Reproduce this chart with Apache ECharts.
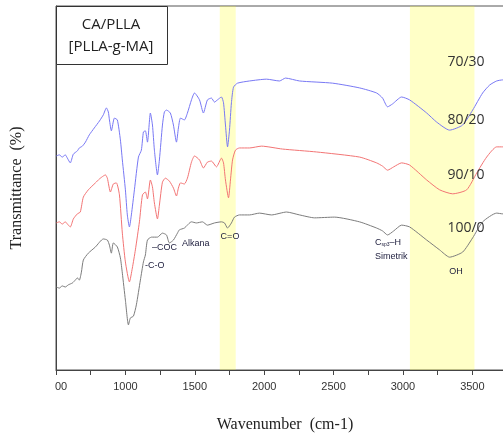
<!DOCTYPE html>
<html>
<head>
<meta charset="utf-8">
<script src="https://cdn.jsdelivr.net/npm/echarts@6/dist/echarts.min.js"></script>
<style>
  html, body { margin: 0; padding: 0; background: #fff; }
  #chart { width: 503px; height: 433px; }
</style>
</head>
<body>
<div id="chart"></div>
<script>
// FTIR spectra, [wavenumber, transmittance]
var s7030 = [[502,58.8],[524,59.1],[545,58.5],[567,59.1],[582,58.2],[603,56.9],[625,59.3],[654,60.2],[668,61.0],[690,61.5],[712,62.6],[740,64.6],[776,66.5],[813,68.4],[841,70.1],[863,72.0],[877,70.9],[885,68.7],[899,65.7],[921,69.2],[942,68.7],[964,63.2],[978,57.7],[1000,49.5],[1014,42.6],[1029,39.3],[1043,42.6],[1065,49.5],[1094,58.5],[1115,60.4],[1130,65.4],[1144,65.7],[1159,62.6],[1180,70.6],[1195,67.3],[1209,60.4],[1231,53.6],[1245,57.7],[1267,67.3],[1281,70.9],[1296,71.4],[1324,70.6],[1346,67.3],[1368,62.6],[1382,66.5],[1397,69.2],[1425,68.7],[1447,70.6],[1476,74.2],[1498,76.1],[1534,74.2],[1562,70.6],[1591,74.2],[1620,74.7],[1642,73.6],[1663,74.2],[1692,75.0],[1707,73.4],[1721,67.3],[1736,61.3],[1750,65.9],[1764,73.4],[1779,77.7],[1808,78.8],[1894,79.4],[2017,79.9],[2110,79.4],[2154,80.2],[2255,79.4],[2493,78.8],[2687,77.5],[2810,76.1],[2853,74.7],[2889,72.3],[2925,73.1],[2990,75.0],[3048,74.2],[3171,70.6],[3243,68.1],[3336,65.9],[3430,67.3],[3502,71.4],[3574,76.1],[3625,78.3],[3675,79.4],[3719,79.7],[3800,79.7]];
var s8020 = [[502,40.4],[524,40.7],[545,40.1],[567,40.7],[582,40.1],[603,39.3],[625,41.5],[654,42.9],[675,43.4],[697,47.5],[733,49.5],[784,51.4],[813,52.5],[841,53.3],[856,53.6],[870,52.7],[892,48.9],[913,51.1],[935,51.4],[957,48.1],[978,37.6],[1000,29.7],[1029,24.2],[1050,28.0],[1072,33.0],[1101,40.7],[1123,48.1],[1144,48.9],[1159,47.0],[1180,52.2],[1195,50.3],[1209,45.9],[1231,41.5],[1245,45.3],[1267,51.6],[1288,52.7],[1317,51.9],[1346,50.0],[1368,47.8],[1382,50.0],[1397,51.4],[1425,51.1],[1447,52.7],[1476,57.1],[1498,58.8],[1534,57.7],[1562,55.5],[1591,57.1],[1620,57.4],[1656,55.8],[1692,58.2],[1707,56.9],[1721,52.2],[1743,47.3],[1757,52.2],[1772,57.7],[1793,60.4],[1822,61.0],[1894,61.0],[1981,61.5],[2132,60.7],[2377,59.9],[2687,58.5],[2810,56.9],[2853,56.0],[2889,54.9],[2933,55.8],[2990,56.9],[3048,56.3],[3171,52.2],[3264,49.5],[3358,48.4],[3459,49.5],[3531,54.1],[3603,58.5],[3675,61.3],[3719,61.3],[3800,61.3]];
var s1000 = [[502,22.8],[524,22.5],[545,23.1],[567,22.8],[589,23.4],[618,23.9],[639,24.7],[654,25.3],[668,24.7],[683,26.9],[697,30.2],[733,32.1],[784,33.8],[841,36.0],[870,35.7],[885,34.3],[899,32.1],[913,34.9],[942,33.8],[964,30.8],[978,26.6],[1000,19.2],[1022,12.4],[1036,14.3],[1058,14.8],[1079,17.9],[1108,24.7],[1130,29.7],[1144,31.6],[1159,35.7],[1188,36.5],[1231,36.5],[1267,37.6],[1296,37.1],[1317,34.9],[1346,35.7],[1375,37.6],[1389,38.5],[1425,39.0],[1476,40.7],[1512,40.4],[1555,40.7],[1591,39.8],[1642,40.4],[1692,40.7],[1714,40.4],[1736,39.0],[1764,40.4],[1786,42.0],[1822,42.6],[1894,42.6],[1966,43.1],[2053,42.6],[2161,43.4],[2255,42.6],[2363,41.8],[2507,42.0],[2687,40.7],[2810,39.0],[2853,38.2],[2889,37.1],[2933,38.2],[2990,39.8],[3048,39.3],[3171,35.7],[3264,33.0],[3336,31.0],[3430,32.4],[3502,36.3],[3574,40.7],[3675,43.1],[3719,42.9],[3800,42.9]];

var bands = [[1680, 1795], [3050, 3515]];
var ratioLabels = ['70/30', '80/20', '90/10', '100/0'];

var chart = echarts.init(document.getElementById('chart'));

var lineSeries = function (name, data, color) {
    return {
        name: name,
        type: 'line',
        data: data,
        smooth: 0.2,
        showSymbol: false,
        silent: true,
        lineStyle: { color: color, width: 1 },
        z: 2
    };
};

var note = function (x, y, txt, align) {
    return { type: 'text', x: x, y: y, z: 11, style: { text: txt, font: '9px "Liberation Sans"', fill: '#1c1c3c', align: align || 'left', verticalAlign: 'middle' } };
};

var ratio = function (y, txt) {
    return { type: 'text', x: 466, y: y, z: 11, style: { text: txt, font: '14px "Open Sans"', fill: '#333', align: 'center', verticalAlign: 'middle' } };
};

var option = {
    animation: false,
    backgroundColor: '#fff',
    grid: {
        left: 56, top: 6, width: 458, height: 364,
        outerBoundsMode: 'none',
        containLabel: false,
        show: true, borderColor: '#555', borderWidth: 1
    },
    xAxis: {
        type: 'value',
        min: 500,
        max: 3800,
        interval: 500,
        name: 'Wavenumber  (cm-1)',
        nameLocation: 'middle',
        nameGap: 47,
        nameTextStyle: { fontFamily: 'Liberation Serif', fontSize: 16, color: '#222' },
        axisLine: { lineStyle: { color: '#444', width: 1 } },
        axisTick: { show: true, inside: false, length: 5, lineStyle: { color: '#444' } },
        minorTick: { show: true, splitNumber: 2, length: 5, lineStyle: { color: '#444' } },
        splitLine: { show: false },
        axisLabel: {
            margin: 11,
            fontFamily: 'Liberation Sans',
            fontSize: 11,
            color: '#333',
            showMaxLabel: false,
            formatter: function (v) { return v === 500 ? '{c|00}' : String(v); },
            rich: { c: { padding: [0, 0, 0, 10], fontSize: 11, fontFamily: 'Liberation Sans', color: '#333' } }
        }
    },
    yAxis: {
        type: 'value',
        min: 0,
        max: 100,
        name: 'Transmittance  (%)',
        nameLocation: 'middle',
        nameGap: 31,
        nameTextStyle: { fontFamily: 'Liberation Serif', fontSize: 16, color: '#222' },
        axisLine: { show: true, lineStyle: { color: '#444', width: 1 } },
        axisTick: { show: false },
        axisLabel: { show: false },
        splitLine: { show: false }
    },
    series: [
        lineSeries('70/30', s7030, '#7878f4'),
        lineSeries('80/20', s8020, '#f27474'),
        lineSeries('100/0', s1000, '#7c7c7c'),
        {
            type: 'line',
            data: [],
            silent: true,
            z: 5,
            markArea: {
                silent: true,
                itemStyle: { color: 'rgba(255,255,0,0.22)' },
                data: bands.map(function (b) { return [{ xAxis: b[0] }, { xAxis: b[1] }]; })
            }
        }
    ],
    graphic: [
        { type: 'rect', left: 56, top: 6, shape: { width: 111, height: 58 }, style: { fill: '#fff', stroke: '#333', lineWidth: 1 }, z: 10 },
        { type: 'text', x: 111, y: 25, z: 11, style: { text: 'CA/PLLA', font: '15px "Open Sans"', fill: '#222', align: 'center', verticalAlign: 'middle' } },
        { type: 'text', x: 111, y: 47, z: 11, style: { text: '[PLLA-g-MA]', font: '15px "Open Sans"', fill: '#222', align: 'center', verticalAlign: 'middle' } },
        ratio(62, ratioLabels[0]),
        ratio(120, ratioLabels[1]),
        ratio(175, ratioLabels[2]),
        ratio(228, ratioLabels[3]),
        note(145, 266, '-C-O'),
        note(152, 248, '\u2013COC'),
        note(182, 244, 'Alkana'),
        note(230, 237, 'C=O', 'center'),
        {
            type: 'text', x: 375, y: 243, z: 11,
            style: {
                text: '{a|C}{s|sp3}{a|\u2013H}',
                verticalAlign: 'middle',
                rich: {
                    a: { font: '9px "Liberation Sans"', fill: '#1c1c3c' },
                    s: { font: '5px "Liberation Sans"', fill: '#1c1c3c', verticalAlign: 'bottom' }
                }
            }
        },
        note(375, 257, 'Simetrik'),
        note(456, 272, 'OH', 'center')
    ]
};

chart.setOption(option);
</script>
</body>
</html>
